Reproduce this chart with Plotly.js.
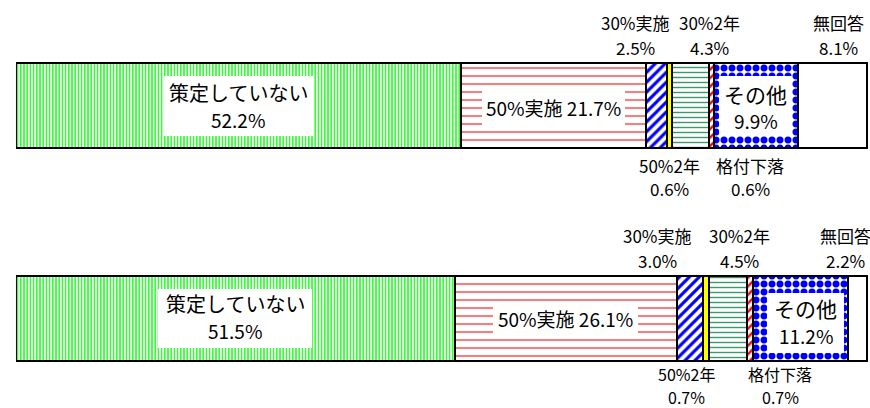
<!DOCTYPE html>
<html>
<head>
<meta charset="utf-8">
<script src="https://cdn.plot.ly/plotly-3.0.1.min.js"></script>
<style>
  html, body { margin: 0; padding: 0; background: #fff; }
  #chart { width: 870px; height: 408px; }
</style>
</head>
<body>
<div id="chart"></div>
<script>
// two stacked bars (upper, lower)
const rows = [1, 0];

const segments = ['策定していない', '50%実施', '30%実施', '50%2年', '30%2年', '格付下落', 'その他', '無回答'];
const upperValues = [52.2, 21.7, 2.5, 0.6, 4.3, 0.6, 9.9, 8.1];
const lowerValues = [51.5, 26.1, 3.0, 0.7, 4.5, 0.7, 11.2, 2.2];

const FONT = '"Noto Sans CJK JP", "Noto Sans", sans-serif';

// fill pattern for each segment
const patterns = [
    { shape: '|', fg: '#00ff00', size: 3.2, solidity: 0.4 },
    { shape: '-', fg: '#ff2020', size: 8, solidity: 0.15 },
    { shape: '/', fg: '#0000ff', size: 7, solidity: 0.45 },
    { shape: '', fg: '#ffff00', size: 6, solidity: 0.5 },
    { shape: '-', fg: '#3a9a6a', size: 5, solidity: 0.28 },
    { shape: '/', fg: '#ff0000', size: 6, solidity: 0.4 },
    { shape: '.', fg: '#0000ff', size: 8, solidity: 0.6 },
    { shape: '', fg: '#ffffff', size: 6, solidity: 0.5 }
];

const traces = segments.map((name, i) => {
    const p = patterns[i];
    return {
        type: 'bar',
        orientation: 'h',
        name: name,
        y: rows,
        x: [upperValues[i], lowerValues[i]],
        width: 0.4,
        marker: {
            color: p.shape ? '#ffffff' : p.fg,
            line: { color: '#000', width: 2 },
            pattern: p.shape ? {
                shape: p.shape,
                fgcolor: p.fg,
                bgcolor: '#ffffff',
                size: p.size,
                solidity: p.solidity,
                fillmode: 'replace'
            } : undefined
        },
        hoverinfo: 'x+name'
    };
});

// label placement per segment: inside (with white box), above or below the bar
// [upper, lower] pixel shifts
const labelPos = [
    { where: 'in', box: [[150, 60, 0, -0.5], [154, 59, 0, -0.5]], name: [13.5, 15], value: [-13.5, -12], nameSize: 20, valueSize: 19 },
    { where: 'line', box: [[143, 34, 0, -2.5], [145, 30, 0, 0]], line: [-1.5, 0], size: 19 },
    { where: 'above', dx: [-21, -32] },
    { where: 'below', dx: [0, -19] },
    { where: 'above', dx: [19, 12] },
    { where: 'below', dx: [39, 30] },
    { where: 'in', box: [[73, 60, 0, -0.5], [77, 60, 5, -5]], name: [12, 10], value: [-14.5, -17], dx: [0, 5], nameSize: 21, valueSize: 19 },
    { where: 'above', dx: [6, -12] }
];

// vertical shifts of outside labels [name, value] and font size, upper and lower bar
const aboveShift = [[83, 58, 17], [83, 58, 17]];
const belowShift = [[-59.5, -82.5, 17], [-56, -79, 16]];

const boxes = [];
const texts = [];

[upperValues, lowerValues].forEach((vals, r) => {
    const yv = rows[r];
    let start = 0;
    vals.forEach((v, i) => {
        const mid = start + v / 2;
        start += v;
        const pos = labelPos[i];
        const pct = v.toFixed(1) + '%';
        const base = {
            x: mid, y: yv, xref: 'x', yref: 'y',
            showarrow: false, xanchor: 'center', yanchor: 'middle'
        };
        if (pos.where === 'in' || pos.where === 'line') {
            const b = pos.box[r];
            boxes.push(Object.assign({}, base, {
                text: ' ', width: b[0], height: b[1], xshift: b[2], yshift: b[3],
                bgcolor: '#ffffff', borderpad: 0, borderwidth: 0
            }));
        }
        if (pos.where === 'in') {
            const dx = pos.dx ? pos.dx[r] : 0;
            texts.push(Object.assign({}, base, {
                text: segments[i], xshift: dx, yshift: pos.name[r],
                font: { family: FONT, size: pos.nameSize, color: '#000' }
            }));
            texts.push(Object.assign({}, base, {
                text: pct, xshift: dx, yshift: pos.value[r],
                font: { family: FONT, size: pos.valueSize, color: '#000' }
            }));
        } else if (pos.where === 'line') {
            texts.push(Object.assign({}, base, {
                text: segments[i] + ' ' + pct, yshift: pos.line[r],
                font: { family: FONT, size: pos.size, color: '#000' }
            }));
        } else {
            const sh = pos.where === 'above' ? aboveShift[r] : belowShift[r];
            texts.push(Object.assign({}, base, {
                text: segments[i], xshift: pos.dx[r], yshift: sh[0],
                font: { family: FONT, size: sh[2], color: '#000' }
            }));
            texts.push(Object.assign({}, base, {
                text: pct, xshift: pos.dx[r], yshift: sh[1],
                font: { family: FONT, size: sh[2], color: '#000' }
            }));
        }
    });
});

const layout = {
    barmode: 'stack',
    showlegend: false,
    width: 870,
    height: 408,
    margin: { l: 16, r: 2, t: 0, b: 0 },
    paper_bgcolor: '#ffffff',
    plot_bgcolor: '#ffffff',
    xaxis: { range: [0, 100], visible: false, fixedrange: true },
    yaxis: { range: [-0.4235, 1.4965], visible: false, fixedrange: true },
    annotations: boxes.concat(texts)
};

Plotly.newPlot('chart', traces, layout, { displayModeBar: false, staticPlot: true });
</script>
</body>
</html>
